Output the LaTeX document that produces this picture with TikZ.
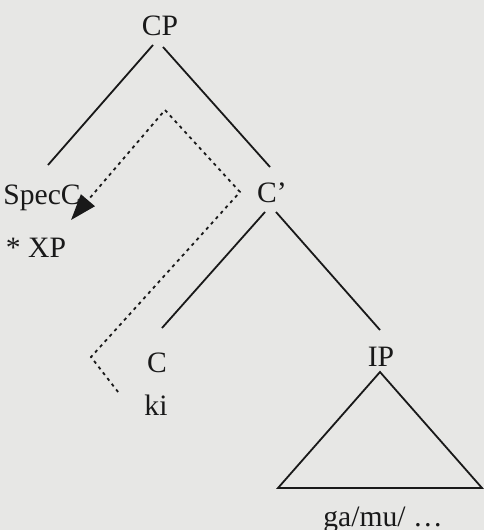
\documentclass[tikz,border=0pt]{standalone}
\usepackage{fontspec}
\setmainfont{Liberation Serif}
\usetikzlibrary{arrows.meta}

\definecolor{paper}{RGB}{231,231,229}
\definecolor{ink}{RGB}{25,25,25}

\begin{document}
\begin{tikzpicture}[x=0.5pt, y=-0.5pt,
    lbl/.style={font=\fontsize{14.8}{17}\selectfont, text=ink, inner sep=0pt, text height=9.6pt, text depth=0pt},
    branch/.style={draw=ink, line width=0.9pt},
    trace/.style={draw=ink, line width=0.9pt, dash pattern=on 1.6pt off 2pt}]
\useasboundingbox (0,0) rectangle (484,530);
\fill[paper] (0,0) rectangle (484,530);

\foreach \name/\x/\y/\txt in {
    cp/160/26/CP,
    specc/42/195/SpecC,
    xp/36/248/* XP,
    cbar/272/193/C',
    c/157/363/C,
    ki/156/406/ki,
    ip/381/357/IP
} {
    \node[lbl] (\name) at (\x,\y) {\txt};
}
\node[lbl] (gamu) at (383,517) {ga/mu/ \dots};

% tree
\draw[branch] ([shift={(-7,9)}]cp.south) -- ([shift={(6,-20)}]specc.north);
\draw[branch] ([shift={(3,11)}]cp.south) -- ([shift={(-2,-16)}]cbar.north);
\draw[branch] ([shift={(-7,9)}]cbar.south) -- ([shift={(5,-25)}]c.north);
\draw[branch] ([shift={(4,9)}]cbar.south) -- ([shift={(-1,-17)}]ip.north);
\coordinate (triL) at (278,488);
\coordinate (triR) at (482,488);
\draw[branch] ([shift={(-1,5)}]ip.south) -- (triL) -- (triR) -- cycle;

% movement of ki
\coordinate (lowturn) at (91,357);
\coordinate (midturn) at (240,192);
\coordinate (topturn) at (165,110);
\draw[trace, -{Triangle[length=13pt, width=9pt]}] ([shift={(-26,-4)}]ki.north west)
    -- (lowturn) -- (midturn) -- (topturn) -- ([shift={(-10,15)}]specc.south east);
\end{tikzpicture}
\end{document}
